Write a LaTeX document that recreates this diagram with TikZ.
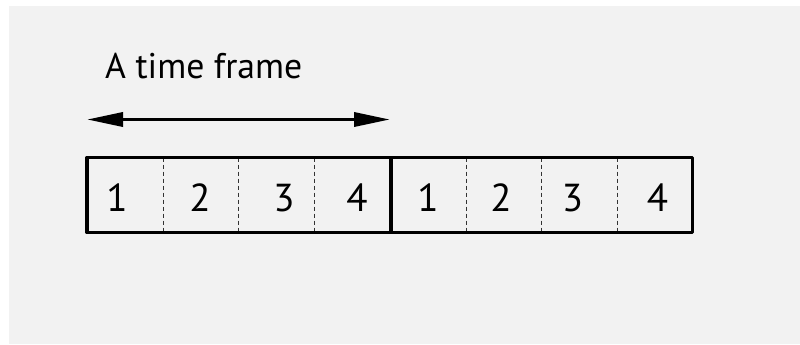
\documentclass[tikz,border=0pt]{standalone}
\usepackage{fontspec}
\setmainfont{PT Sans}
\usetikzlibrary{arrows.meta}
\definecolor{bg}{HTML}{F2F2F2}
\tikzset{
  framebox/.style={draw=black, line width=3.5bp, line join=round},
  cellsep/.style={draw=black!80, line width=1bp, dash pattern=on 4bp off 3bp},
  digit/.style={anchor=base, inner sep=0pt, font=\fontsize{39bp}{44bp}\selectfont},
  title/.style={anchor=base west, inner sep=0pt, font=\fontsize{35.7bp}{42bp}\selectfont},
  spanarrow/.style={line width=3.5bp, {Triangle[length=36bp,width=14bp]}-{Triangle[length=36bp,width=14bp]}}
}
\begin{document}
\begin{tikzpicture}[x=1bp,y=-1bp]
\useasboundingbox (0,0) rectangle (800,344);
\fill[bg] (9,6) rectangle (800,344);
% title
\node[title] (title) at (105,78.3) {A time frame};
% arrow
\coordinate (aL) at (87,119.5);
\coordinate (aR) at (390,119.5);
\draw[spanarrow] (aL) -- (aR);
% cell separators
\foreach \x in {163,238.5,314.5,466,541.5,617}
  \draw[cellsep] (\x,157.5) -- (\x,232.5);
% frames
\draw[framebox] (87,157.5) rectangle (391,232.5);
\draw[framebox] (391,157.5) rectangle (692.5,232.5);
% digits
\node[digit] (a1) at (117,211.7) {1};
\node[digit] (a2) at (200,211.7) {2};
\node[digit] (a3) at (284,211.7) {3};
\node[digit] (a4) at (357,211.7) {4};
\node[digit] (b1) at (428,211.7) {1};
\node[digit] (b2) at (501,211.7) {2};
\node[digit] (b3) at (572.5,211.7) {3};
\node[digit] (b4) at (657.5,211.7) {4};
\end{tikzpicture}
\end{document}
